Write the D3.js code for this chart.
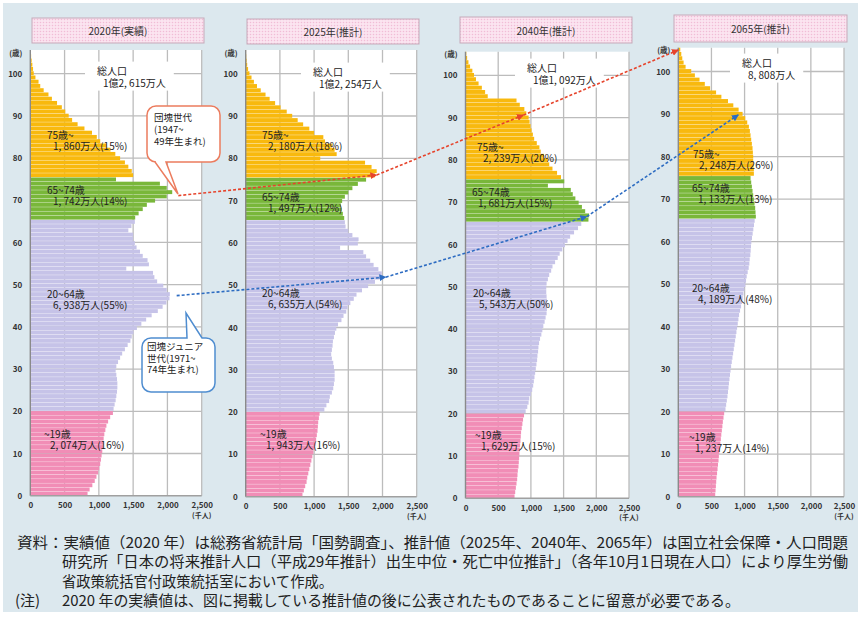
<!DOCTYPE html>
<html><head><meta charset="utf-8">
<script src="https://cdn.jsdelivr.net/npm/d3@7"></script>
<style>
body{margin:0;background:#fff;}
text{font-family:"Noto Sans CJK JP","Noto Sans",sans-serif;}
</style>
</head><body>
<svg id="c" width="860" height="618"></svg>
<script>
// ---------------- DATA (thousand persons, by single age 0..104) ----------------
const ages = d3.range(0, 105);
const pop2020 = [
 835,865,905,940,965,990,1005,1020,1030,1040,1050,1060,1065,1070,1080,1095,1110,1135,1165,1205,
 1215,1230,1245,1255,1265,1270,1270,1265,1255,1245,1255,1280,1310,1340,1380,1420,1460,1480,1505,1555,
 1620,1690,1770,1860,1930,1985,2030,2035,1990,1940,1850,1810,1790,1400,1730,1710,1640,1600,1550,1525,
 1500,1500,1430,1475,1525,
 1530,1580,1640,1700,1820,1990,2070,1990,1890,1250,
 1500,1480,1430,1380,1310,1240,1170,1110,1020,970,900,790,690,610,560,510,460,390,315,265,
 195,145,120,75,50,40,30,20,12,6];
const pop2025 = [
 830,850,870,890,900,915,930,945,960,975,990,1005,1020,1030,1040,1050,1055,1060,1070,1080,
 1150,1180,1220,1230,1260,1280,1290,1300,1300,1300,1290,1280,1260,1250,1260,1270,1275,1290,1305,1325,
 1350,1400,1430,1470,1490,1530,1580,1620,1700,1790,1890,1960,1990,1940,1870,1820,1760,1720,1380,1640,
 1650,1560,1500,1460,1450,
 1440,1420,1400,1390,1410,1450,1500,1560,1640,1760,
 1890,1915,1840,1745,1090,1330,1300,1260,1160,1135,1000,930,840,760,680,600,510,430,350,290,
 220,165,120,85,55,35,22,14,8,5];
const pop2040 = [
 750,760,770,780,790,795,800,810,815,820,825,830,835,840,845,850,860,870,880,895,
 920,945,965,975,1000,1020,1035,1045,1055,1065,1075,1085,1095,1100,1110,1115,1125,1140,1160,1175,
 1190,1210,1225,1240,1245,1250,1245,1240,1235,1235,1240,1260,1280,1310,1330,1370,1410,1440,1480,1520,
 1560,1600,1660,1720,1770,
 1880,1890,1830,1780,1730,1680,1640,1610,1260,1510,
 1460,1400,1330,1280,1260,1200,1150,1130,1090,1050,1030,1010,995,980,965,930,900,830,780,340,
 300,250,200,160,130,105,70,45,25,12];
const pop2065 = [
 557,562,567,572,577,585,592,599,607,612,619,627,635,642,649,657,665,672,682,692,
 712,722,732,742,750,757,764,772,780,788,797,807,817,827,837,847,857,867,877,887,
 897,907,917,932,947,962,972,982,997,1012,1022,1032,1047,1062,1072,1077,1087,1092,1097,1102,
 1112,1122,1132,1142,1152,
 1170,1165,1160,1150,1140,1130,1120,1110,1100,1090,
 1140,1140,1135,1130,1130,1125,1120,1110,1100,1090,1080,1065,1040,1010,970,910,830,750,650,570,
 480,400,320,250,195,110,80,60,45,30];

const panelTitles = ["2020年(実績)", "2025年(推計)", "2040年(推計)", "2065年(推計)"];
const totalTitle = "総人口";
const totalValues = ["1億2, 615万人", "1億2, 254万人", "1億1, 092万人", "8, 808万人"];
const groupNames = ["75歳~", "65~74歳", "20~64歳", "~19歳"];
const groupValues = [
  ["1, 860万人(15%)", "1, 742万人(14%)", "6, 938万人(55%)", "2, 074万人(16%)"],
  ["2, 180万人(18%)", "1, 497万人(12%)", "6, 635万人(54%)", "1, 943万人(16%)"],
  ["2, 239万人(20%)", "1, 681万人(15%)", "5, 543万人(50%)", "1, 629万人(15%)"],
  ["2, 248万人(26%)", "1, 133万人(13%)", "4, 189万人(48%)", "1, 237万人(14%)"]
];
const xTicks = [0, 500, 1000, 1500, 2000, 2500];
const yTicks = [0, 10, 20, 30, 40, 50, 60, 70, 80, 90, 100];
// annotation anchors [value, age] per panel
const dankaiPts = [[2159, 71.1], [1915, 76.05], [884, 90.6], [0, 105.06]];
const juniorPts = [[2135, 47.4], [2047, 51.9], [1853, 66.6], [905, 89.8]];
const calloutDankai = ["団塊世代", "(1947~", "49年生まれ)"];
const calloutJunior = ["団塊ジュニア", "世代(1971~", "74年生まれ)"];
const noteLines = [
  "資料：実績値（2020 年）は総務省統計局「国勢調査」、推計値（2025年、2040年、2065年）は国立社会保障・人口問題",
  "研究所「日本の将来推計人口（平成29年推計）出生中位・死亡中位推計」（各年10月1日現在人口）により厚生労働",
  "省政策統括官付政策統括室において作成。",
  "(注)",
  "2020 年の実績値は、図に掲載している推計値の後に公表されたものであることに留意が必要である。"
];

// ---------------- LAYOUT ----------------
const FONT = '"Noto Sans CJK JP","Noto Sans",sans-serif';
const colors = {old:"#f8b90e", young_old:"#79b73a", work:"#c6c3e8", child:"#f18db6"};
function colorFor(a){ return a>=75?colors.old : a>=65?colors.young_old : a>=20?colors.work : colors.child; }

const panels = [
 {data:pop2020, x0:30.3, x1:201.7, y0:495.7, top:50,   tb:[32,18,172,25],
  tot:[97,71], grp:[[47,135],[47,190],[47,294],[44,434]]},
 {data:pop2025, x0:245.7, x1:416.7, y0:496.7, top:50,  tb:[247,19,172,25],
  tot:[313,72], grp:[[262,135],[262,197],[262,293],[260,434]]},
 {data:pop2040, x0:465.5, x1:629, y0:498.3, top:51.7,  tb:[460,17,172,26],
  tot:[527,68], grp:[[477,147],[472,192],[473,293],[475,435]]},
 {data:pop2065, x0:678.3, x1:844, y0:496.7, top:47.7,  tb:[674,15,173,27],
  tot:[742,63], grp:[[693,154],[692,188],[692,288],[689,437]]}
];

const svg = d3.select("#c");
svg.append("rect").attr("x",3).attr("y",3).attr("width",855).attr("height",609).attr("fill","#dce8ee");

const defs = svg.append("defs");
const pat = defs.append("pattern").attr("id","dots").attr("width",3).attr("height",3).attr("patternUnits","userSpaceOnUse");
pat.append("rect").attr("width",3).attr("height",3).attr("fill","#fbe4f0");
pat.append("circle").attr("cx",1.5).attr("cy",1.5).attr("r",0.75).attr("fill","#f1bcd6");
function marker(id,col){
  defs.append("marker").attr("id",id).attr("viewBox","0 0 10 10").attr("refX",9).attr("refY",5)
    .attr("markerWidth",7).attr("markerHeight",7).attr("markerUnits","userSpaceOnUse").attr("orient","auto")
    .append("path").attr("d","M0,0 L10,5 L0,10 Z").attr("fill",col);
}
marker("arR","#e6442c"); marker("arB","#2d6cc2");

// multi-line text as one <text> element with tspans
function multiText(parent, lines, x, y, dx, lh, size){
  const t = parent.append("text").attr("font-size",size).attr("fill","#222");
  lines.forEach((s,k)=>{
    t.append("tspan").attr("x",x+(k>0?dx:0)).attr("y",y+k*lh).attr("dy","0.36em").text(s);
  });
  return t;
}

panels.forEach((p,i)=>{
  p.x = d3.scaleLinear().domain([0,2500]).range([p.x0,p.x1]);
  p.y = d3.scaleLinear().domain([0,105.6]).range([p.y0,p.top]);
  p.b = d3.scaleBand().domain(ages).range([p.y0,p.top]).paddingInner(0.08);
  const g = svg.append("g");

  // title box
  g.append("rect").attr("x",p.tb[0]).attr("y",p.tb[1]).attr("width",p.tb[2]).attr("height",p.tb[3])
    .attr("fill","url(#dots)").attr("stroke","#c6a9b9").attr("stroke-width",1);
  g.append("text").attr("x",p.tb[0]+p.tb[2]/2).attr("y",p.tb[1]+p.tb[3]/2)
    .attr("text-anchor","middle").attr("dominant-baseline","central")
    .attr("font-size",10).attr("fill","#333").text(panelTitles[i]);

  // plot bg
  g.append("rect").attr("x",p.x0).attr("y",p.top).attr("width",p.x1-p.x0).attr("height",p.y0-p.top).attr("fill","#fff");
  // grid
  g.selectAll(".gv").data(xTicks.slice(1)).join("line")
    .attr("x1",d=>p.x(d)).attr("x2",d=>p.x(d)).attr("y1",p.top).attr("y2",p.y0)
    .attr("stroke","#bcbcbc").attr("stroke-width",1.3);
  g.selectAll(".gh").data(yTicks.slice(1)).join("line")
    .attr("x1",p.x0).attr("x2",p.x1).attr("y1",d=>p.y(d)).attr("y2",d=>p.y(d))
    .attr("stroke","#bcbcbc").attr("stroke-width",1.3);

  // total label with white background
  const tg = g.append("g");
  const tt = multiText(tg,[totalTitle,totalValues[i]],p.tot[0],p.tot[1],6,12,10);
  const bb = tt.node().getBBox();
  tg.insert("rect","text").attr("x",bb.x-12).attr("y",bb.y-1).attr("width",bb.width+20)
    .attr("height",bb.height+2).attr("fill","#fff");

  // bars
  g.append("g").selectAll("rect").data(ages).join("rect")
    .attr("x",p.x(0)).attr("y",a=>p.b(a)).attr("height",p.b.bandwidth())
    .attr("width",a=>p.x(p.data[a])-p.x(0)).attr("fill",a=>colorFor(a));

  // axis lines
  g.append("line").attr("x1",p.x0).attr("x2",p.x0).attr("y1",p.top).attr("y2",p.y0).attr("stroke","#8a8a8a").attr("stroke-width",1.4);
  g.append("line").attr("x1",p.x0).attr("x2",p.x1).attr("y1",p.y0).attr("y2",p.y0).attr("stroke","#a0a0a0").attr("stroke-width",1.4);

  // tick labels
  g.append("g").attr("transform",`translate(${p.x0},0)`)
    .call(d3.axisLeft(p.y).tickValues(yTicks).tickSize(0).tickPadding(8))
    .call(s=>s.select(".domain").remove())
    .attr("font-family",FONT).attr("font-size",8).attr("font-weight","bold")
    .selectAll("text").attr("fill","#333");
  g.append("g").attr("transform",`translate(0,${p.y0})`)
    .call(d3.axisBottom(p.x).tickValues(xTicks).tickFormat(d3.format(",")).tickSize(0).tickPadding(7))
    .call(s=>s.select(".domain").remove())
    .attr("font-family",FONT).attr("font-size",8).attr("font-weight","bold")
    .selectAll("text").attr("fill","#333");
  g.append("text").attr("x",p.x0-8).attr("y",p.top+2).attr("text-anchor","end").attr("dominant-baseline","central")
    .attr("font-size",7.5).attr("font-weight","bold").attr("fill","#333").text("(歳)");
  g.append("text").attr("x",p.x1).attr("y",p.y0+19).attr("text-anchor","middle").attr("dominant-baseline","central")
    .attr("font-size",7).attr("font-weight","bold").attr("fill","#333").text("(千人)");

  // group labels
  p.grp.forEach((pos,k)=>{
    multiText(g,[groupNames[k],groupValues[i][k]],pos[0],pos[1],6,11,10);
  });
});

// ---------------- callouts ----------------
function calloutPath(x1,y1,x2,y2,r,side,bx1,bx2,tx,ty){
  if(side==="bottom"){
    return `M${x1+r},${y1} H${x2-r} A${r},${r} 0 0 1 ${x2},${y1+r} V${y2-r} A${r},${r} 0 0 1 ${x2-r},${y2} H${bx2} L${tx},${ty} L${bx1},${y2} H${x1+r} A${r},${r} 0 0 1 ${x1},${y2-r} V${y1+r} A${r},${r} 0 0 1 ${x1+r},${y1} Z`;
  }
  return `M${x1+r},${y1} H${bx1} L${tx},${ty} L${bx2},${y1} H${x2-r} A${r},${r} 0 0 1 ${x2},${y1+r} V${y2-r} A${r},${r} 0 0 1 ${x2-r},${y2} H${x1+r} A${r},${r} 0 0 1 ${x1},${y2-r} V${y1+r} A${r},${r} 0 0 1 ${x1+r},${y1} Z`;
}
const cg = svg.append("g");
cg.append("path").attr("d",calloutPath(147,106,220,162,9,"bottom",155,166,178,194))
  .attr("fill","#fff").attr("stroke","#ec7c5e").attr("stroke-width",1.5);
multiText(cg,calloutDankai,154,118,0,11.8,9.5);
cg.append("path").attr("d",calloutPath(142,338,215,392,9,"top",187,202,186,313))
  .attr("fill","#fff").attr("stroke","#4f8dd0").attr("stroke-width",1.5);
multiText(cg,calloutJunior,147,347,0,11.2,9.5);

// ---------------- arrows ----------------
function drawChain(pts,col,mk){
  for(let k=0;k<pts.length-1;k++){
    const a=panels[k], b=panels[k+1];
    svg.append("line")
      .attr("x1",a.x(pts[k][0])).attr("y1",a.y(pts[k][1]))
      .attr("x2",b.x(pts[k+1][0])).attr("y2",b.y(pts[k+1][1]))
      .attr("stroke",col).attr("stroke-width",1.6).attr("stroke-dasharray","3,2")
      .attr("marker-end",`url(#${mk})`);
  }
}
drawChain(dankaiPts,"#e6442c","arR");
drawChain(juniorPts,"#2d6cc2","arB");

// ---------------- footnote ----------------
const ng = svg.append("g").attr("font-size",15).attr("fill","#222");
const note = (t,x,y,len)=>{
  const e = ng.append("text").attr("x",x).attr("y",y).attr("dominant-baseline","central").text(t);
  if(len) e.attr("textLength",len).attr("lengthAdjust","spacingAndGlyphs");
};
note(noteLines[0],17,541.5,831);
note(noteLines[1],62,560.5,786);
note(noteLines[2],62,580,271);
note(noteLines[3],15,599,null);
note(noteLines[4],62,599,678);
</script>
</body></html>
